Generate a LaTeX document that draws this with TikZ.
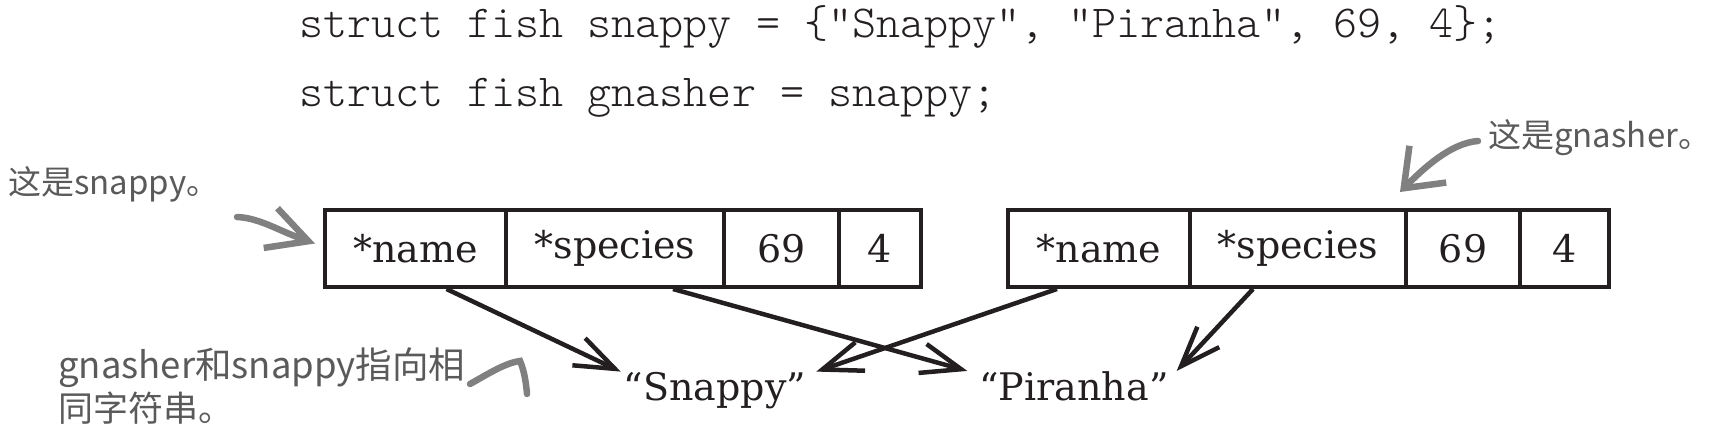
\documentclass[tikz,border=0pt]{standalone}
\usepackage{fontspec}
\setmainfont{DejaVu Serif}
\newfontfamily\cjk{Noto Sans CJK SC}
\newfontfamily\codefont{Latin Modern Mono Light}
\usetikzlibrary{arrows.meta,calc}
\definecolor{ink}{HTML}{231F20}
\definecolor{handtext}{HTML}{5A5A5A}
\definecolor{handarrow}{HTML}{808080}
\tikzset{
  cell/.style={draw=ink, line width=4pt, minimum height=77pt, inner sep=0pt,
    font=\fontsize{38}{40}\selectfont, text=ink},
  strnode/.style={inner sep=0pt, font=\fontsize{38}{40}\selectfont, text=ink},
  code/.style={inner sep=0pt, anchor=base west, font=\codefont\fontsize{45.8}{50}\selectfont, text=ink},
  hand/.style={inner sep=0pt, anchor=base west, text=handtext},
  arr/.style={draw=ink, line width=4.5pt, -{Straight Barb[length=40pt,width=30pt]}},
  garr/.style={draw=handarrow, line width=6.5pt, line cap=round},
}
\begin{document}
\begin{tikzpicture}[x=1pt,y=-1pt]
\useasboundingbox (0,0) rectangle (1719,441);
% code
\node[code] (c1) at (299,38) {struct fish snappy = \{"Snappy", "Piranha", 69, 4\};};
\node[code] (c2) at (299,107) {struct fish gnasher = snappy;};
% left struct
\node[cell, minimum width=181pt] (l1) at (415.5,248.5) {*name};
\node[cell, minimum width=218pt] (l2) at (615,248.5) {*species};
\node[cell, minimum width=115pt] (l3) at (781.5,248.5) {69};
\node[cell, minimum width=82pt]  (l4) at (880,248.5) {4};
% right struct
\node[cell, minimum width=182pt] (r1) at (1099,248.5) {*name};
\node[cell, minimum width=216pt] (r2) at (1298,248.5) {*species};
\node[cell, minimum width=114pt] (r3) at (1463,248.5) {69};
\node[cell, minimum width=89pt]  (r4) at (1564.5,248.5) {4};
% strings
\node[strnode, anchor=base] (sn) at (715,400) {“Snappy”};
\node[strnode, anchor=base] (pi) at (1074,400) {“Piranha”};
% pointers
\draw[arr] ([xshift=31pt]l1.south) -- ([xshift=-3pt]sn.north west);
\draw[arr] ([xshift=58pt]l2.south) -- ([xshift=-12pt]pi.north west);
\draw[arr] ([xshift=-42pt]r1.south) -- ([xshift=10pt]sn.north east);
\draw[arr] ([xshift=-45pt]r2.south) -- ([xshift=8pt]pi.north east);
% handwritten notes
\node[hand, font=\cjk\fontsize{33}{36}\selectfont] (snl) at (8,194) {这是snappy。};
\node[hand, font=\cjk\fontsize{33}{36}\selectfont] (gnl) at (1488,147) {这是gnasher。};
\node[hand, font=\cjk\fontsize{36.5}{40}\selectfont] (n1) at (58,378) {gnasher和snappy指向相};
\node[hand, font=\cjk\fontsize{35}{40}\selectfont] (n2) at (58,421) {同字符串。};
% hand arrows
\coordinate (snstart) at (237,217);
\coordinate (sntip) at ([xshift=-8pt,yshift=5pt]l1.west);
\draw[garr, -{Straight Barb[length=40pt,width=42pt]}] (snstart) .. controls (260,218) and (279,231) .. (sntip);
\coordinate (gnstart) at (1478,141);
\coordinate (gntip) at ([xshift=-4pt,yshift=16pt]r3.north west);
\draw[garr, -{Straight Barb[length=34pt,width=52pt]}] (gnstart) .. controls (1450,143) and (1422,170) .. (gntip);
\coordinate (hk1) at (470,384);
\coordinate (hk2) at (520,361);
\coordinate (hk3) at (527,394);
\draw[garr] (hk1) .. controls (488,374) and (505,363) .. (hk2) .. controls (524,370) and (526,382) .. (hk3);
\end{tikzpicture}
\end{document}
